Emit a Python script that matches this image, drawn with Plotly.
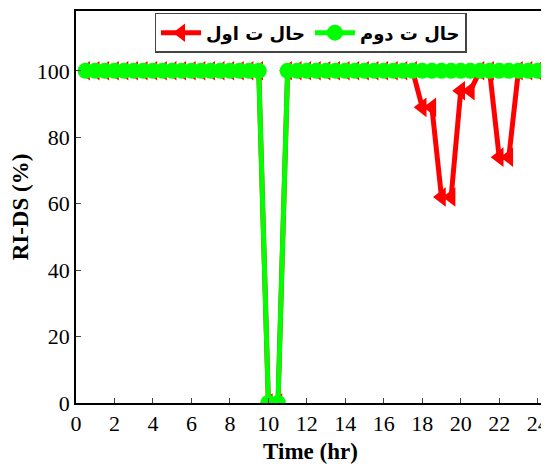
import plotly.graph_objects as go

time_hr = [0.5 * i for i in range(1, 49)]

red_values = [100] * 48
green_values = [100] * 48

def idx(t):
    return int(round(t / 0.5)) - 1

for t, v in [(10, 0), (10.5, 0)]:
    red_values[idx(t)] = v
    green_values[idx(t)] = v

red_dips = {18: 89, 18.5: 89, 19: 62, 19.5: 62, 20: 94, 20.5: 94, 22: 74, 22.5: 74}
for t, v in red_dips.items():
    red_values[idx(t)] = v

labels = ["حال ت اول", "حال ت دوم"]
x_ticks = list(range(0, 25, 2))
y_ticks = list(range(0, 101, 20))

fig = go.Figure()
fig.add_trace(go.Scatter(
    x=time_hr, y=red_values, name=labels[0], mode="lines+markers",
    line=dict(color="#ff0000", width=5),
    marker=dict(symbol="triangle-left", size=17, color="#ff0000"),
))
fig.add_trace(go.Scatter(
    x=time_hr, y=green_values, name=labels[1], mode="lines+markers",
    line=dict(color="#00ff00", width=5),
    marker=dict(symbol="circle", size=16, color="#00ff00"),
))

serif = "Times New Roman, Liberation Serif, serif"
tick_font = dict(family=serif, size=22, color="black")
title_font = dict(family=serif, size=23, color="black")
fig.update_layout(
    width=541, height=456,
    margin=dict(l=68, r=0, t=3, b=61),
    plot_bgcolor="white", paper_bgcolor="white",
    font=dict(family=serif),
    showlegend=True,
    legend=dict(
        orientation="h", x=0.5, xanchor="center", y=0.995, yanchor="top",
        bordercolor="#444", borderwidth=1.5, bgcolor="white",
        font=dict(family="DejaVu Sans", size=18, color="black", weight="bold"),
        itemwidth=40,
    ),
    xaxis=dict(
        range=[0, 24.38], tickvals=x_ticks, ticks="inside", ticklen=5,
        showline=True, linecolor="black", linewidth=1.5, mirror=True,
        showgrid=False, zeroline=False, tickfont=tick_font,
        ticklabeloverflow="allow",
        title=dict(text="<b>Time (hr)</b>", font=title_font, standoff=8),
    ),
    yaxis=dict(
        range=[0, 118], tickvals=y_ticks, ticks="inside", ticklen=5,
        showline=True, linecolor="black", linewidth=1.5, mirror=True,
        showgrid=False, zeroline=False, tickfont=tick_font,
        title=dict(text="<b>RI-DS (%)</b>", font=title_font, standoff=3),
    ),
)

fig.write_html("out.html")
